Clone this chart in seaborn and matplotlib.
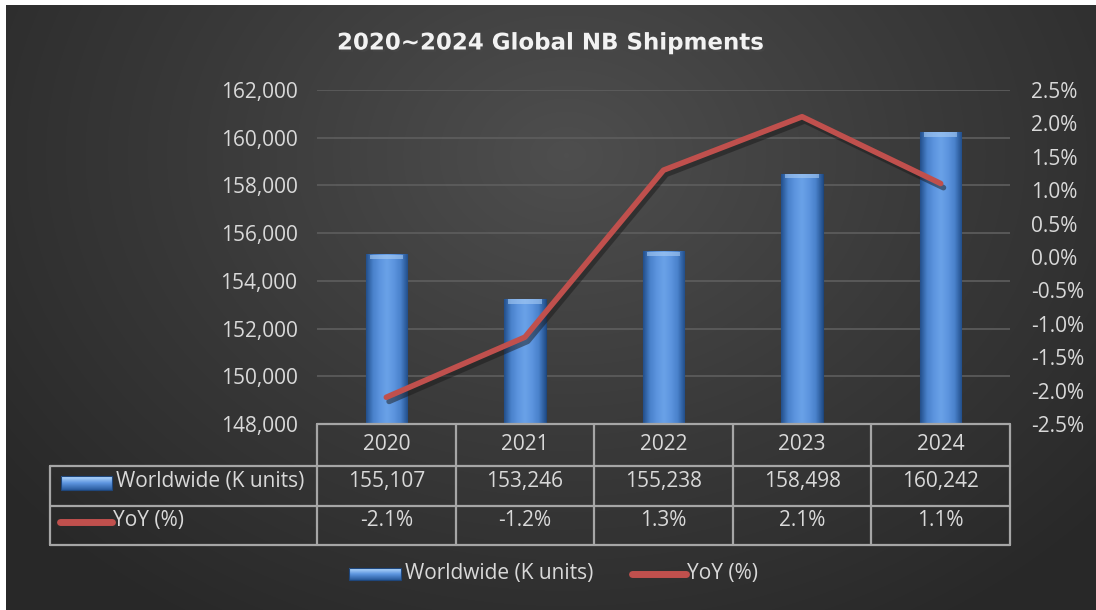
import numpy as np
import pandas as pd
import seaborn as sns
import matplotlib.pyplot as plt
import matplotlib.patheffects as pe
from matplotlib.colors import LinearSegmentedColormap
from matplotlib.patches import Rectangle

# data
years = ['2020', '2021', '2022', '2023', '2024']
shipments = [155107, 153246, 155238, 158498, 160242]
yoy = [-2.1, -1.2, 1.3, 2.1, 1.1]
bar_label = 'Worldwide (K units)'
line_label = 'YoY (%)'
title = '2020~2024 Global NB Shipments'

df = pd.DataFrame({'year': years, 'shipments': shipments, 'yoy': yoy})
df['pos'] = np.arange(len(df))

sns.set_theme(style='white')
plt.rcParams['font.family'] = ['Open Sans', 'DejaVu Sans']

W, H = 1096, 610
FS = 15
TXT = '#d9d9d9'
GRID = '#5e5e5e'
TBL = '#a6a6a6'
RED = '#c0504d'

fig = plt.figure(figsize=(W / 100, H / 100), dpi=100)
fig.patch.set_facecolor('white')

# radial dark background
bg = fig.add_axes([6 / W, 0, 1 - 6 / W, 1 - 5 / H])
bg.set_axis_off()
yy, xx = np.mgrid[0:605, 0:1090]
r = np.clip(np.hypot((xx - 560) / 720, (yy - 150) / 560), 0, 1)
bg_cmap = LinearSegmentedColormap.from_list('bg', ['#4e4e4e', '#3a3a3a', '#282828'])
bg.imshow(r, cmap=bg_cmap, aspect='auto', interpolation='bilinear')

bar_cmap = LinearSegmentedColormap.from_list(
    'bar', ['#23508c', '#4a82cc', '#5d95df', '#6aa2e8', '#5d95df', '#4a82cc', '#23508c'])
grad = np.linspace(0, 1, 64).reshape(1, -1)

# main axes
x0, y0, pw, ph = 317, 90, 693, 334
ax = fig.add_axes([x0 / W, (H - y0 - ph) / H, pw / W, ph / H])
ax.patch.set_alpha(0)
sns.barplot(data=df, x='pos', y='shipments', ax=ax, width=0.3, color='#4a82cc',
            saturation=1, native_scale=True)
ax.set_ylim(148000, 162000)
ax.set_xlim(-0.5, 4.5)
for p in ax.patches:
    bx, bw, top = p.get_x(), p.get_width(), p.get_height()
    im = ax.imshow(grad, cmap=bar_cmap, aspect='auto', zorder=3,
                   extent=[bx, bx + bw, 148000, top])
    im.set_clip_path(p)
    p.set_edgecolor('#1f477c')
    p.set_linewidth(0.8)
    # light bevel at top of bar
    ax.add_patch(Rectangle((bx + bw * 0.1, top - 200), bw * 0.8, 180,
                           color='#a8ccf4', alpha=0.6, zorder=4, lw=0))
ax.set_yticks(np.arange(148000, 162001, 2000))
ax.yaxis.set_major_formatter(plt.FuncFormatter(lambda v, _: f'{v:,.0f}'))
ax.grid(axis='y', color=GRID, lw=1.2)
ax.set_axisbelow(True)
ax.tick_params(axis='y', colors=TXT, labelsize=FS, length=0, pad=14)
ax.tick_params(axis='x', length=0, labelbottom=False)
ax.set_xlabel('')
ax.set_ylabel('')
for s in ax.spines.values():
    s.set_visible(False)

ax2 = ax.twinx()
sns.lineplot(data=df, x='pos', y='yoy', ax=ax2, color=RED, lw=4, zorder=5)
ax2.lines[0].set_path_effects([pe.SimpleLineShadow(offset=(2, -3), alpha=0.5), pe.Normal()])
ax2.lines[0].set_solid_capstyle('round')
ax2.set_ylim(-2.5, 2.5)
ax2.set_yticks(np.arange(-2.5, 2.51, 0.5))
ax2.yaxis.set_major_formatter(plt.FuncFormatter(lambda v, _: f'{v:.1f}%'))
ax2.tick_params(axis='y', colors=TXT, labelsize=FS, length=0, pad=15)
ax2.set_xlabel('')
ax2.set_ylabel('')
ax2.grid(False)
for s in ax2.spines.values():
    s.set_visible(False)

# overlay in pixel coordinates for table, title and legend
ov = fig.add_axes([0, 0, 1, 1])
ov.set_xlim(0, W)
ov.set_ylim(H, 0)
ov.set_axis_off()
ov.patch.set_alpha(0)

cw = pw / len(years)
cols = [x0 + i * cw for i in range(len(years) + 1)]
rows = [424, 466, 506, 545]
left = 50
kw = dict(color=TBL, lw=1.6)
ov.plot([x0, cols[-1]], [rows[0], rows[0]], **kw)
for yv in rows[1:]:
    ov.plot([left, cols[-1]], [yv, yv], **kw)
for xv in cols:
    ov.plot([xv, xv], [rows[0], rows[-1]], **kw)
ov.plot([left, left], [rows[1], rows[-1]], **kw)

ym0 = (rows[0] + rows[1]) / 2
ym1 = (rows[1] + rows[2]) / 2 - 4
ym2 = (rows[2] + rows[3]) / 2 - 5
for i, yr in enumerate(years):
    cx = (cols[i] + cols[i + 1]) / 2
    ov.text(cx, ym0, yr, ha='center', va='center', color=TXT, fontsize=FS)
    ov.text(cx, ym1, f'{shipments[i]:,}', ha='center', va='center', color=TXT, fontsize=FS)
    ov.text(cx, ym2, f'{yoy[i]:.1f}%', ha='center', va='center', color=TXT, fontsize=FS)


def bar_key(x, y, w, h):
    im = ov.imshow(np.linspace(0, 1, 32).reshape(-1, 1), zorder=3, aspect='auto',
                   cmap=LinearSegmentedColormap.from_list('k', ['#b8dcff', '#5d95df', '#2a5c9e']),
                   extent=[x, x + w, y + h, y])
    rect = Rectangle((x, y), w, h, fill=False, ec='#1f477c', lw=0.8, zorder=4)
    ov.add_patch(rect)
    im.set_clip_path(rect)


def line_key(x, y, w):
    ov.plot([x, x + w], [y, y], color=RED, lw=5, solid_capstyle='round')


bar_key(61, ym1 - 6, 51, 14)
ov.text(116, ym1, bar_label, ha='left', va='center', color=TXT, fontsize=FS)
line_key(60, ym2 + 1, 52)
ov.text(113, ym2, line_label, ha='left', va='center', color=TXT, fontsize=FS)

# bottom legend
ly = 574
bar_key(349, ly - 6, 52, 12)
ov.text(405, ly, bar_label, ha='left', va='center', color=TXT, fontsize=FS)
line_key(632, ly, 54)
ov.text(687, ly, line_label, ha='left', va='center', color=TXT, fontsize=FS)

ov.text(550, 43, title, ha='center', va='center', color='#f2f2f2', fontsize=16.5,
        fontweight='bold', family=['DejaVu Sans'],
        path_effects=[pe.withSimplePatchShadow(offset=(1.5, -1.5), alpha=0.6)])

fig.savefig('out.png', dpi=100)
